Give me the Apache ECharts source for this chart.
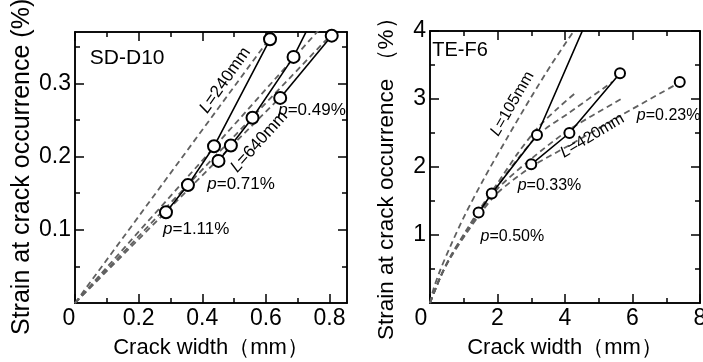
<!DOCTYPE html>
<html><head><meta charset="utf-8">
<script src="https://cdn.jsdelivr.net/npm/echarts@6/dist/echarts.min.js"></script>
<style>html,body{margin:0;padding:0;background:#fff}#c{width:703px;height:362px}</style>
</head><body><div id="c"></div>
<script>
// ---------- Left panel: SD-D10 ----------
const sdXTicks = [0, 0.2, 0.4, 0.6, 0.8];
const sdXMinor = [0.1, 0.3, 0.5, 0.7];
const sdYTicks = [0.1, 0.2, 0.3];
const sdYMinor = [0.05, 0.15, 0.25, 0.35];
const sdP111 = [[0.286, 0.124], [0.355, 0.161], [0.437, 0.214], [0.613, 0.360]];
const sdP071 = [[0.451, 0.194], [0.490, 0.215], [0.558, 0.253], [0.687, 0.336], [0.755, 0.395]];
const sdP049 = [[0.645, 0.280], [0.807, 0.365]];
const sdL240 = [[0, 0], [0.63, 0.372]];
const sdCalc2 = [[0, 0], [0.765, 0.372]];
const sdCalc3 = [[0, 0], [0.80, 0.364]];
const sdCalc4 = [[0, 0], [0.65, 0.283]];

// ---------- Right panel: TE-F6 ----------
const teXTicks = [0, 2, 4, 6, 8];
const teXMinor = [1, 3, 5, 7];
const teYTicks = [1, 2, 3, 4];
const teYMinor = [0.5, 1.5, 2.5, 3.5];
const teP050 = [[1.44, 1.33], [1.83, 1.61], [3.17, 2.47], [4.60, 4.10]];
const teP033 = [[3.00, 2.04], [4.13, 2.50], [5.63, 3.38]];
const teP023 = [[7.40, 3.25]];
const teL105 = [[0, 0], [0.1, 0.2], [0.3, 0.48], [0.6, 0.83], [1.0, 1.26], [1.6, 1.83], [2.3, 2.44], [3.0, 3.03], [3.6, 3.51], [4.26, 4.0]];
const teCalc2 = [[0, 0], [0.3, 0.38], [0.6, 0.68], [1.1, 1.09], [1.5, 1.40], [2.0, 1.76], [2.6, 2.2], [3.2, 2.58], [3.8, 2.87], [4.36, 3.11]];
const teCalc3 = [[0, 0], [0.3, 0.37], [0.6, 0.67], [1.1, 1.07], [1.5, 1.37], [2.0, 1.72], [2.6, 2.12], [3.27, 2.5], [4.13, 2.8], [5.4, 3.25]];
const teCalc4 = [[0, 0], [0.3, 0.37], [0.6, 0.67], [1.1, 1.06], [1.5, 1.35], [2.0, 1.68], [3.0, 2.12], [4.13, 2.55], [5.7, 3.01]];
const teL420 = [[0, 0], [0.3, 0.37], [0.6, 0.66], [1.1, 1.04], [1.5, 1.32], [2.0, 1.62], [3.0, 2.0], [4.13, 2.32], [5.7, 2.77], [7.35, 3.23]];

// annotation anchors (data coordinates)
const sdNotes = [
  {text: 'SD-D10', at: [0.164, 0.334], rot: 0, size: 21},
  {text: '{i|L}=240mm', at: [0.472, 0.304], rot: 55, size: 17},
  {text: '{i|L}=640mm', at: [0.579, 0.220], rot: 48, size: 17},
  {text: '{i|p}=0.49%', at: [0.745, 0.263], rot: 0, size: 17},
  {text: '{i|p}=0.71%', at: [0.522, 0.162], rot: 0, size: 17},
  {text: '{i|p}=1.11%', at: [0.381, 0.100], rot: 0, size: 17}
];
const teNotes = [
  {text: 'TE-F6', at: [0.89, 3.72], rot: 0, size: 20},
  {text: '{i|L}=105mm', at: [2.44, 2.93], rot: 60, size: 16},
  {text: '{i|L}=420mm', at: [4.81, 2.46], rot: 31, size: 16},
  {text: '{i|p}=0.23%', at: [7.07, 2.76], rot: 0, size: 16},
  {text: '{i|p}=0.33%', at: [3.54, 1.72], rot: 0, size: 16},
  {text: '{i|p}=0.50%', at: [2.44, 0.97], rot: 0, size: 16}
];

const FONT = '"Liberation Sans", Arial, Helvetica, sans-serif';
const LG = {left: 75, top: 32, width: 272, height: 271};
const RG = {left: 430, top: 31, width: 270, height: 272};
const LX = [0, 0.855], LY = [0, 0.37], RX = [0, 8], RY = [0, 4];

function axis(gridIndex, position, ext, ticks, len, labels, fmt, zeroPad) {
  const a = {
    type: 'value', gridIndex, position, min: ext[0], max: ext[1],
    splitLine: {show: false},
    axisLine: {show: true, onZero: false, lineStyle: {color: '#000', width: 1.5}},
    axisTick: {show: true, inside: true, length: len, customValues: ticks, lineStyle: {color: '#000', width: 1.5}},
    axisLabel: {show: false}
  };
  if (labels) {
    a.axisLabel = {
      show: true, customValues: labels, formatter: fmt, color: '#000', fontSize: 23, fontFamily: FONT, margin: 4,
      rich: {z: {fontSize: 23, fontFamily: FONT, color: '#000', padding: [0, zeroPad || 0, 0, 0]}}
    };
  }
  return a;
}

const grids = [LG, LG, RG, RG].map(g => Object.assign({outerBoundsMode: 'none', containLabel: false}, g));
const fmtL = v => v === 0 ? '{z|0}' : v.toFixed(1);
const fmtR = v => v === 0 ? '{z|0}' : String(v);
const fmtY1 = v => v.toFixed(1);
const fmtY2 = v => String(v);

const xAxes = [
  axis(0, 'bottom', LX, sdXTicks, 9, sdXTicks, fmtL, 12),
  axis(0, 'top', LX, sdXTicks, 9),
  axis(1, 'bottom', LX, sdXMinor, 5),
  axis(1, 'top', LX, sdXMinor, 5),
  axis(2, 'bottom', RX, teXTicks, 9, teXTicks, fmtR, 18),
  axis(2, 'top', RX, teXTicks, 9),
  axis(3, 'bottom', RX, teXMinor, 5),
  axis(3, 'top', RX, teXMinor, 5)
];
xAxes[0].name = 'Crack width（mm）';
xAxes[4].name = 'Crack width（mm）';
[0, 4].forEach(i => {
  xAxes[i].nameLocation = 'middle';
  xAxes[i].nameGap = 34;
  xAxes[i].nameTextStyle = {fontSize: 22, fontFamily: FONT, color: '#000'};
});
const yAxes = [
  axis(0, 'left', LY, sdYTicks, 9, sdYTicks, fmtY1),
  axis(0, 'right', LY, sdYTicks, 9),
  axis(1, 'left', LY, sdYMinor, 5),
  axis(1, 'right', LY, sdYMinor, 5),
  axis(2, 'left', RY, teYTicks, 9, teYTicks, fmtY2),
  axis(2, 'right', RY, teYTicks, 9),
  axis(3, 'left', RY, teYMinor, 5),
  axis(3, 'right', RY, teYMinor, 5)
];

function solid(data, ai, size, ymax) {
  return {
    type: 'line', xAxisIndex: ai, yAxisIndex: ai, clip: true, silent: true, z: 4,
    data: data.map(p => p[1] > ymax ? {value: p, symbol: 'none'} : p),
    symbol: 'circle', symbolSize: size, showSymbol: true,
    lineStyle: {color: '#000', width: 1.6},
    itemStyle: {color: '#fff', borderColor: '#000', borderWidth: 2}
  };
}
function dashed(data, ai, smooth) {
  return {
    type: 'line', xAxisIndex: ai, yAxisIndex: ai, clip: true, silent: true, z: 3,
    data, symbol: 'none', smooth: smooth || false,
    lineStyle: {color: '#606060', width: 1.8, type: [6, 4]}
  };
}

const series = [
  dashed(sdL240, 0), dashed(sdCalc2, 0), dashed(sdCalc3, 0), dashed(sdCalc4, 0),
  solid(sdP111, 0, 12, LY[1]), solid(sdP071, 0, 12, LY[1]), solid(sdP049, 0, 12, LY[1]),
  dashed(teL105, 4, 0.3), dashed(teCalc2, 4, 0.3), dashed(teCalc3, 4, 0.3), dashed(teCalc4, 4, 0.3), dashed(teL420, 4, 0.3),
  solid(teP050, 4, 10, RY[1]), solid(teP033, 4, 10, RY[1]), solid(teP023, 4, 10, RY[1])
];

const chart = echarts.init(document.getElementById('c'), null, {renderer: 'canvas'});
chart.setOption({
  animation: false,
  backgroundColor: '#fff',
  grid: grids, xAxis: xAxes, yAxis: yAxes, series
});

function noteEls(notes, gi) {
  return notes.map(n => {
    const p = chart.convertToPixel({gridIndex: gi}, n.at);
    return {
      type: 'text', x: p[0], y: p[1], rotation: n.rot * Math.PI / 180, z: 10, silent: true,
      style: {
        text: n.text, fill: '#000', fontSize: n.size, fontFamily: FONT,
        align: 'center', verticalAlign: 'middle',
        rich: {i: {fontStyle: 'italic', fontSize: n.size, fontFamily: FONT, fill: '#000'}}
      }
    };
  });
}
const yNames = [
  {type: 'text', x: 22, y: 335, rotation: Math.PI / 2, silent: true,
   style: {text: 'Strain at crack occurrence (%)', fontSize: 25, fontFamily: FONT, fill: '#000', align: 'left', verticalAlign: 'middle'}},
  {type: 'text', x: 387, y: 340, rotation: Math.PI / 2, silent: true,
   style: {text: 'Strain at crack occurrence （%）', fontSize: 22.5, fontFamily: FONT, fill: '#000', align: 'left', verticalAlign: 'middle'}}
];
chart.setOption({graphic: noteEls(sdNotes, 0).concat(noteEls(teNotes, 2)).concat(yNames)});
</script></body></html>
